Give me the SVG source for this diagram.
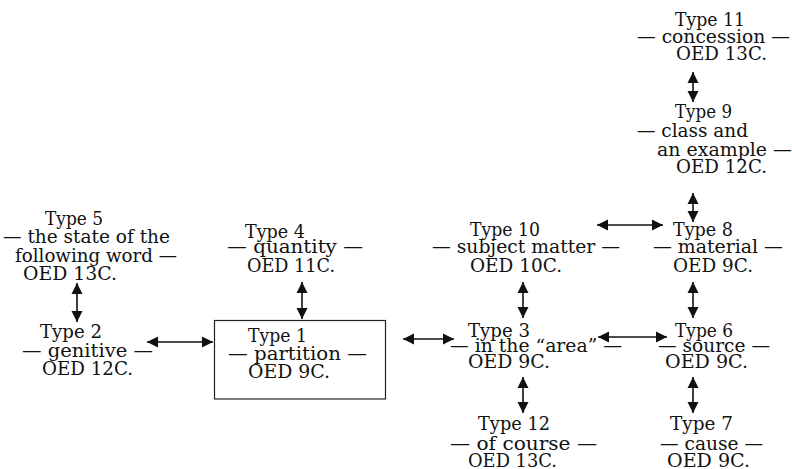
<svg xmlns="http://www.w3.org/2000/svg" width="792" height="469" viewBox="0 0 792 469">
<defs>
<style>
text{font-family:"DejaVu Serif","Liberation Serif",serif;font-size:18px;fill:#111}
.c{stroke:#111;stroke-width:1.6;fill:none;marker-start:url(#ah);marker-end:url(#ah)}
.box{fill:none;stroke:#222;stroke-width:1.2}
</style>
<marker id="ah" markerUnits="userSpaceOnUse" markerWidth="12" markerHeight="12" refX="11" refY="6" orient="auto-start-reverse" viewBox="0 0 12 12">
<path d="M0,0.5 L11,6 L0,11.5 z" fill="#111"/>
</marker>
</defs>
<rect width="792" height="469" fill="#fff"/>
<g id="type11">
<text x="675" y="26" textLength="70" lengthAdjust="spacingAndGlyphs">Type 11</text>
<text x="637" y="43" textLength="153" lengthAdjust="spacingAndGlyphs">—  concession  —</text>
<text x="676" y="60" textLength="91" lengthAdjust="spacingAndGlyphs">OED 13C.</text>
</g>
<g id="type9">
<text x="675" y="118" textLength="57" lengthAdjust="spacingAndGlyphs">Type 9</text>
<text x="637" y="137" textLength="111" lengthAdjust="spacingAndGlyphs">—  class and</text>
<text x="657" y="156" textLength="135" lengthAdjust="spacingAndGlyphs">an example  —</text>
<text x="676" y="173" textLength="91" lengthAdjust="spacingAndGlyphs">OED 12C.</text>
</g>
<g id="type8">
<text x="673" y="236" textLength="60" lengthAdjust="spacingAndGlyphs">Type 8</text>
<text x="653" y="253" textLength="130" lengthAdjust="spacingAndGlyphs">—  material  —</text>
<text x="673" y="272" textLength="80" lengthAdjust="spacingAndGlyphs">OED 9C.</text>
</g>
<g id="type10">
<text x="470" y="236" textLength="70" lengthAdjust="spacingAndGlyphs">Type 10</text>
<text x="432" y="253" textLength="188" lengthAdjust="spacingAndGlyphs">—  subject matter  —</text>
<text x="470" y="272" textLength="92" lengthAdjust="spacingAndGlyphs">OED 10C.</text>
</g>
<g id="type3">
<text x="468" y="337" textLength="62" lengthAdjust="spacingAndGlyphs">Type 3</text>
<text x="450" y="352" textLength="172" lengthAdjust="spacingAndGlyphs">—  in the “area”  —</text>
<text x="468" y="368" textLength="82" lengthAdjust="spacingAndGlyphs">OED 9C.</text>
</g>
<g id="type6">
<text x="675" y="337" textLength="58" lengthAdjust="spacingAndGlyphs">Type 6</text>
<text x="658" y="352" textLength="112" lengthAdjust="spacingAndGlyphs">—  source  —</text>
<text x="665" y="368" textLength="83" lengthAdjust="spacingAndGlyphs">OED 9C.</text>
</g>
<g id="type12">
<text x="478" y="430" textLength="72" lengthAdjust="spacingAndGlyphs">Type 12</text>
<text x="450" y="450" textLength="147" lengthAdjust="spacingAndGlyphs">—  of course  —</text>
<text x="468" y="467" textLength="89" lengthAdjust="spacingAndGlyphs">OED 13C.</text>
</g>
<g id="type7">
<text x="670" y="430" textLength="63" lengthAdjust="spacingAndGlyphs">Type 7</text>
<text x="660" y="450" textLength="103" lengthAdjust="spacingAndGlyphs">—  cause  —</text>
<text x="667" y="467" textLength="83" lengthAdjust="spacingAndGlyphs">OED 9C.</text>
</g>
<g id="type5">
<text x="45" y="225" textLength="58" lengthAdjust="spacingAndGlyphs">Type 5</text>
<text x="3" y="243" textLength="167" lengthAdjust="spacingAndGlyphs">—  the state of the</text>
<text x="15" y="262" textLength="162" lengthAdjust="spacingAndGlyphs">following word  —</text>
<text x="23" y="280" textLength="94" lengthAdjust="spacingAndGlyphs">OED 13C.</text>
</g>
<g id="type2">
<text x="40" y="338" textLength="62" lengthAdjust="spacingAndGlyphs">Type 2</text>
<text x="22" y="357" textLength="131" lengthAdjust="spacingAndGlyphs">—  genitive  —</text>
<text x="42" y="375" textLength="91" lengthAdjust="spacingAndGlyphs">OED 12C.</text>
</g>
<g id="type1">
<rect class="box" x="214.5" y="320.5" width="171" height="78.5"/>
<text x="248" y="342" textLength="59" lengthAdjust="spacingAndGlyphs">Type 1</text>
<text x="228" y="360" textLength="139" lengthAdjust="spacingAndGlyphs">—  partition  —</text>
<text x="248" y="378" textLength="82" lengthAdjust="spacingAndGlyphs">OED 9C.</text>
</g>
<g id="type4">
<text x="245" y="238" textLength="60" lengthAdjust="spacingAndGlyphs">Type 4</text>
<text x="227" y="253" textLength="136" lengthAdjust="spacingAndGlyphs">—  quantity  —</text>
<text x="247" y="272" textLength="88" lengthAdjust="spacingAndGlyphs">OED 11C.</text>
</g>
<g id="connectors">
<line class="c" x1="693" y1="72" x2="693" y2="102"/>
<line class="c" x1="693" y1="193" x2="693" y2="222"/>
<line class="c" x1="597" y1="225" x2="663" y2="225"/>
<line class="c" x1="523" y1="282" x2="523" y2="318"/>
<line class="c" x1="693" y1="282" x2="693" y2="318"/>
<line class="c" x1="403" y1="339" x2="454" y2="339"/>
<line class="c" x1="598" y1="337" x2="667" y2="337"/>
<line class="c" x1="523" y1="377" x2="523" y2="413"/>
<line class="c" x1="693" y1="377" x2="693" y2="413"/>
<line class="c" x1="77" y1="283" x2="77" y2="322"/>
<line class="c" x1="147" y1="342" x2="213" y2="342"/>
<line class="c" x1="302" y1="282" x2="302" y2="319"/>
</g>
</svg>
